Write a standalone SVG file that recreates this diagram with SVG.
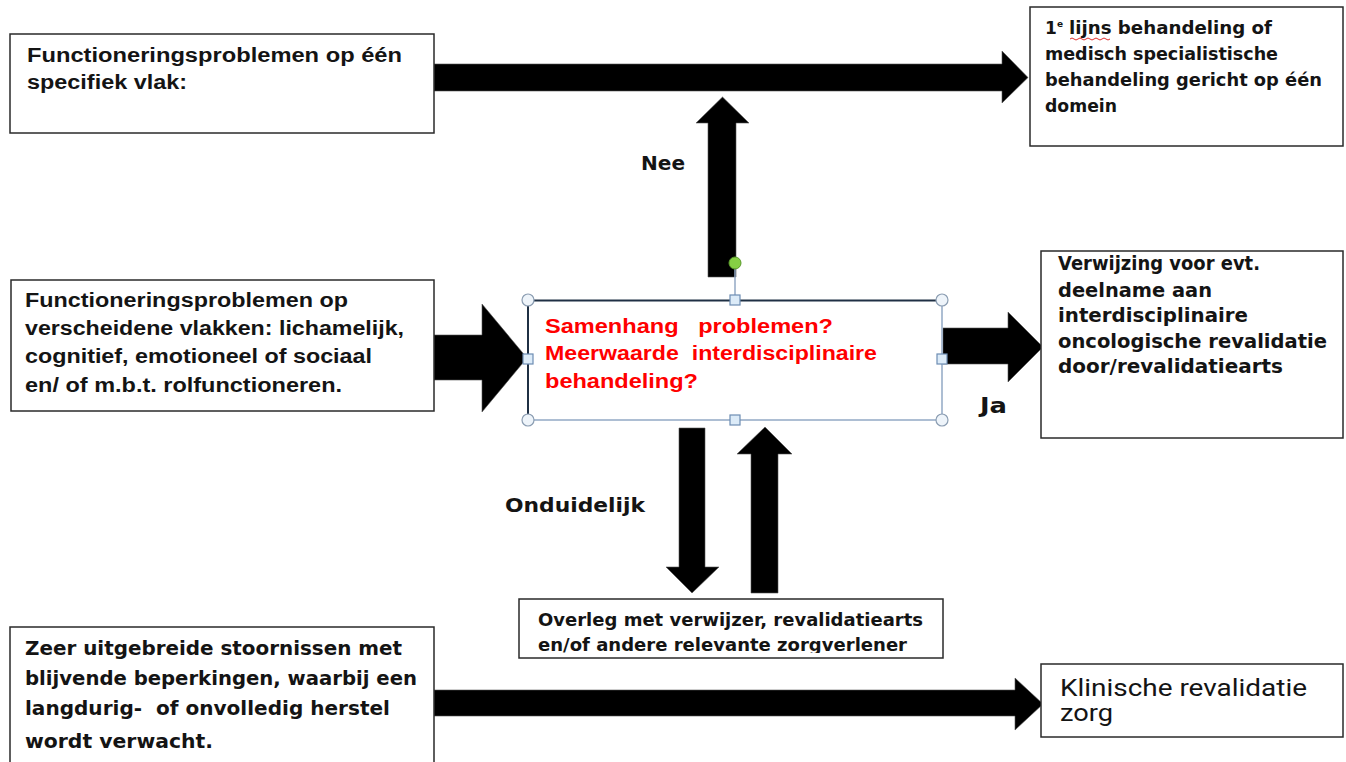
<svg xmlns="http://www.w3.org/2000/svg" width="1346" height="762" viewBox="0 0 1346 762">
<style>
.box{fill:#fff;stroke:#2a2a2a;stroke-width:1.5}
.arr{fill:#000;stroke:#555;stroke-width:0.6}
.ar{font-family:"Liberation Sans",Arial,sans-serif;font-weight:bold;font-size:20px;fill:#141414}
.ta{font-family:"DejaVu Sans",Verdana,sans-serif;font-weight:bold;font-size:17px;fill:#141414}
.ta19{font-size:19px}
.ta20{font-size:20px}
.sup{font-size:9px}
.red{font-family:"Liberation Sans",Arial,sans-serif;font-weight:bold;font-size:20px;fill:#ff0000;white-space:pre}
.lbl{font-family:"DejaVu Sans",Verdana,sans-serif;font-weight:bold;fill:#141414}
.kl{font-family:"Roboto","Liberation Sans",sans-serif;font-size:23px;fill:#141414}
.hc{fill:#eef4fa;stroke:#8b9db2;stroke-width:1.2}
.hs{fill:#dcebf8;stroke:#6d8db3;stroke-width:1.2}
</style>
<defs>
<clipPath id="ovclip"><rect x="519" y="599" width="424" height="54"/></clipPath>
</defs>
<rect width="1346" height="762" fill="#fff"/>

<g id="connectors">
<polygon class="arr" points="434,64 1002,64 1002,51 1028,77.5 1002,103 1002,91 434,91"/>
<polygon class="arr" points="708,277 708,123 696,123 722.5,97 749,123 736,123 736,277"/>
<polygon class="arr" points="434,335 482,335 482,304 527,358 482,412 482,380 434,380"/>
<polygon class="arr" points="943,328 1008,328 1008,312 1043,347 1008,382 1008,364 943,364"/>
<polygon class="arr" points="679,428 705,428 705,567 719,567 692,593 666,567 679,567"/>
<polygon class="arr" points="751,593 778,593 778,454 792,454 765,427 737,454 751,454"/>
<polygon class="arr" points="434,690 1015,690 1015,678 1043,704 1015,730 1015,716 434,716"/>
<text class="lbl" x="641" y="170" font-size="19" textLength="44" lengthAdjust="spacingAndGlyphs">Nee</text>
<text class="lbl" x="505" y="512" font-size="19" textLength="140" lengthAdjust="spacingAndGlyphs">Onduidelijk</text>
<text class="lbl" x="980" y="413" font-size="22" textLength="27" lengthAdjust="spacingAndGlyphs">Ja</text>
</g>

<g id="node-specifiek">
<rect class="box" x="10" y="34" width="424" height="99"/>
<text class="ar" x="27" y="62" textLength="375" lengthAdjust="spacingAndGlyphs">Functioneringsproblemen op één</text>
<text class="ar" x="27" y="89" textLength="160" lengthAdjust="spacingAndGlyphs">specifiek vlak:</text>
</g>

<g id="node-eerstelijns">
<rect class="box" x="1030" y="7" width="313" height="139"/>
<text class="ta" x="1045" y="34">1</text>
<text class="ta sup" x="1057" y="27">e</text>
<text class="ta" x="1069" y="34" textLength="203" lengthAdjust="spacingAndGlyphs">lijns behandeling of</text>
<path d="M1070,39 q2,-2 4,0 t4,0 t4,0 t4,0 t4,0 t4,0 t4,0 t4,0 t4,0 t4,0" fill="none" stroke="#e03030" stroke-width="1"/>
<text class="ta" x="1045" y="60" textLength="233" lengthAdjust="spacingAndGlyphs">medisch specialistische</text>
<text class="ta" x="1045" y="86" textLength="277" lengthAdjust="spacingAndGlyphs">behandeling gericht op één</text>
<text class="ta" x="1045" y="112" textLength="72" lengthAdjust="spacingAndGlyphs">domein</text>
</g>

<g id="node-verscheidene">
<rect class="box" x="11" y="280" width="423" height="131"/>
<text class="ar" x="25" y="307" textLength="323" lengthAdjust="spacingAndGlyphs">Functioneringsproblemen op</text>
<text class="ar" x="25" y="335" textLength="379" lengthAdjust="spacingAndGlyphs">verscheidene vlakken: lichamelijk,</text>
<text class="ar" x="25" y="363" textLength="347" lengthAdjust="spacingAndGlyphs">cognitief, emotioneel of sociaal</text>
<text class="ar" x="25" y="392" textLength="317" lengthAdjust="spacingAndGlyphs">en/ of m.b.t. rolfunctioneren.</text>
</g>

<g id="node-samenhang">
<rect x="528" y="300" width="414" height="120" fill="#fff"/>
<path d="M528,420 V300.5 H942" fill="none" stroke="#1f3044" stroke-width="2"/>
<path d="M942,300 V420 H528" fill="none" stroke="#93a9c5" stroke-width="1.5"/>
<line x1="735" y1="269" x2="735" y2="295" stroke="#93a9c5" stroke-width="1.5"/>
<circle cx="735" cy="263" r="6" fill="#86d044" stroke="#5b9a2c" stroke-width="1"/>
<circle class="hc" cx="528" cy="300" r="6"/>
<circle class="hc" cx="942" cy="300" r="6"/>
<circle class="hc" cx="528" cy="420" r="6"/>
<circle class="hc" cx="942" cy="420" r="6"/>
<rect class="hs" x="730" y="295" width="10" height="10"/>
<rect class="hs" x="730" y="415" width="10" height="10"/>
<rect class="hs" x="523" y="354" width="10" height="10"/>
<rect class="hs" x="937" y="354" width="10" height="10"/>
<text class="red" x="545" y="333" textLength="288" lengthAdjust="spacingAndGlyphs">Samenhang   problemen?</text>
<text class="red" x="545" y="360" textLength="332" lengthAdjust="spacingAndGlyphs">Meerwaarde  interdisciplinaire</text>
<text class="red" x="545" y="388" textLength="153" lengthAdjust="spacingAndGlyphs">behandeling?</text>
</g>

<g id="node-verwijzing">
<rect class="box" x="1041" y="251" width="302" height="187"/>
<text class="ta ta19" x="1058" y="270" textLength="202" lengthAdjust="spacingAndGlyphs">Verwijzing voor evt.</text>
<text class="ta ta19" x="1058" y="297" textLength="154" lengthAdjust="spacingAndGlyphs">deelname aan</text>
<text class="ta ta19" x="1058" y="322" textLength="190" lengthAdjust="spacingAndGlyphs">interdisciplinaire</text>
<text class="ta ta19" x="1058" y="348" textLength="269" lengthAdjust="spacingAndGlyphs">oncologische revalidatie</text>
<text class="ta ta19" x="1058" y="373" textLength="225" lengthAdjust="spacingAndGlyphs">door/revalidatiearts</text>
</g>

<g id="node-overleg">
<rect class="box" x="519" y="599" width="424" height="59"/>
<g clip-path="url(#ovclip)">
<text class="ta" x="538" y="626" textLength="385" lengthAdjust="spacingAndGlyphs">Overleg met verwijzer, revalidatiearts</text>
<text class="ta" x="538" y="651" textLength="369" lengthAdjust="spacingAndGlyphs">en/of andere relevante zorgverlener</text>
</g>
</g>

<g id="node-uitgebreid">
<path class="box" d="M10,763 V627 H434 V763"/>
<text class="ta ta20" x="25" y="655" textLength="377" lengthAdjust="spacingAndGlyphs">Zeer uitgebreide stoornissen met</text>
<text class="ta ta20" x="25" y="685" textLength="392" lengthAdjust="spacingAndGlyphs">blijvende beperkingen, waarbij een</text>
<text class="ta ta20" x="25" y="715" textLength="365" lengthAdjust="spacingAndGlyphs" style="white-space:pre">langdurig-  of onvolledig herstel</text>
<text class="ta ta20" x="25" y="748" textLength="188" lengthAdjust="spacingAndGlyphs">wordt verwacht.</text>
</g>

<g id="node-klinisch">
<rect class="box" x="1041" y="664" width="302" height="73"/>
<text class="kl" x="1060" y="696" textLength="247" lengthAdjust="spacingAndGlyphs">Klinische revalidatie</text>
<text class="kl" x="1060" y="721" textLength="53" lengthAdjust="spacingAndGlyphs">zorg</text>
</g>
</svg>
